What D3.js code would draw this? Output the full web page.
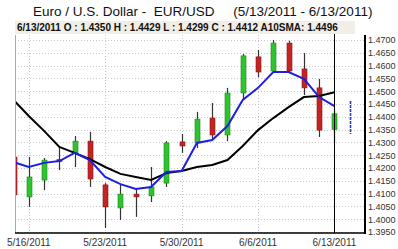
<!DOCTYPE html>
<html>
<head>
<meta charset="utf-8">
<script src="https://cdn.jsdelivr.net/npm/d3@7"></script>
<style>
body { margin: 0; background: #fff; }
svg { display: block; font-family: "Liberation Sans", Arial, sans-serif; }
</style>
</head>
<body>
<script>
(function() {
var w = 398;
var h = 249;

// trading days (a projected range for the next day follows the last one)
var dates = ["5/13/2011", "5/16/2011", "5/17/2011", "5/18/2011", "5/19/2011", "5/20/2011",
             "5/23/2011", "5/24/2011", "5/25/2011", "5/26/2011", "5/27/2011",
             "5/30/2011", "5/31/2011", "6/1/2011", "6/2/2011", "6/3/2011",
             "6/6/2011", "6/7/2011", "6/8/2011", "6/9/2011", "6/10/2011", "6/13/2011"];
var openP  = [1.4243, 1.4087, 1.4153, 1.4233, 1.4259, 1.4305, 1.4134, 1.4044, 1.4098, 1.4091, 1.4141,
              1.4302, 1.4298, 1.4395, 1.4329, 1.4493, 1.4634, 1.4579, 1.4688, 1.4587, 1.4513, 1.4350];
var highP  = [1.4337, 1.4243, 1.4239, 1.4282, 1.4325, 1.4341, 1.4141, 1.4134, 1.4122, 1.4204, 1.4305,
              1.4333, 1.4419, 1.4454, 1.4513, 1.4645, 1.4661, 1.4700, 1.4697, 1.4649, 1.4548, 1.4429];
var lowP   = [1.4075, 1.4048, 1.4114, 1.4192, 1.4204, 1.4126, 1.3966, 1.3997, 1.4009, 1.4067, 1.4126,
              1.4259, 1.4278, 1.4313, 1.4305, 1.4466, 1.4555, 1.4575, 1.4575, 1.4485, 1.4321, 1.4299];
var closeP = [1.4095, 1.4165, 1.4231, 1.4230, 1.4305, 1.4157, 1.4048, 1.4098, 1.4087, 1.4126, 1.4298,
              1.4286, 1.4391, 1.4329, 1.4493, 1.4638, 1.4575, 1.4688, 1.4579, 1.4513, 1.4348, 1.4412];
var sma5  = [1.4223, 1.4204, 1.4220, 1.4227, 1.4259, 1.4231, 1.4165, 1.4137, 1.4118, 1.4126, 1.4184,
             1.4188, 1.4298, 1.4309, 1.4364, 1.4466, 1.4513, 1.4575, 1.4575, 1.4548, 1.4477, 1.4442];
var sma10 = [1.4466, 1.4403, 1.4345, 1.4282, 1.4259, 1.4235, 1.4204, 1.4177, 1.4165, 1.4153, 1.4180,
             1.4188, 1.4204, 1.4212, 1.4231, 1.4286, 1.4348, 1.4395, 1.4438, 1.4477, 1.4481, 1.4496];
var forecast = [1.4333, 1.4462];
var xLabels = ["5/16/2011", "5/23/2011", "5/30/2011", "6/6/2011", "6/13/2011"];
var yLabels = ["1.3950", "1.4000", "1.4050", "1.4100", "1.4150", "1.4200", "1.4250", "1.4300",
               "1.4350", "1.4400", "1.4450", "1.4500", "1.4550", "1.4600", "1.4650", "1.4700"];

var pLeft = 15, pRight = 365, pTop = 35, pBottom = 233;

var x = d3.scaleLinear().domain([0, 23]).range([13.5, pRight]);
var y = d3.scaleLinear().domain([1.395, 1.47]).range([232, 40]);

var svg = d3.select("body").append("svg")
    .attr("width", w)
    .attr("height", h);

// title
svg.append("text")
    .attr("x", 33).attr("y", 16)
    .attr("font-size", 13.5)
    .attr("fill", "#111")
    .attr("xml:space", "preserve")
    .text("Euro / U.S. Dollar -  EUR/USD     (5/13/2011 - 6/13/2011)");

svg.append("defs").append("clipPath").attr("id", "clip")
    .append("rect")
    .attr("x", pLeft).attr("y", pTop)
    .attr("width", pRight - pLeft).attr("height", pBottom - pTop);

// grid
var yVals = yLabels.map(function(d) { return +d; });
svg.append("g").selectAll("line")
    .data(yVals)
    .enter().append("line")
    .attr("x1", pLeft).attr("x2", pRight)
    .attr("y1", function(d) { return Math.round(y(d)) + 0.5; })
    .attr("y2", function(d) { return Math.round(y(d)) + 0.5; })
    .attr("stroke", "#c8c8c8")
    .attr("stroke-dasharray", "1,2");

svg.append("g").selectAll("line")
    .data(xLabels)
    .enter().append("line")
    .attr("x1", function(d) { return Math.round(x(dates.indexOf(d))) + 0.5; })
    .attr("x2", function(d) { return Math.round(x(dates.indexOf(d))) + 0.5; })
    .attr("y1", pTop).attr("y2", pBottom)
    .attr("stroke", "#c8c8c8")
    .attr("stroke-dasharray", "1,2");

var plot = svg.append("g").attr("clip-path", "url(#clip)");

// candles
var idx = d3.range(dates.length);
plot.selectAll(".wick")
    .data(idx)
    .enter().append("line")
    .attr("class", "wick")
    .attr("x1", function(i) { return Math.round(x(i)) + 0.5; })
    .attr("x2", function(i) { return Math.round(x(i)) + 0.5; })
    .attr("y1", function(i) { return y(highP[i]); })
    .attr("y2", function(i) { return y(lowP[i]); })
    .attr("stroke", "#333")
    .attr("stroke-width", 1.2);

plot.selectAll(".body")
    .data(idx)
    .enter().append("rect")
    .attr("class", "body")
    .attr("x", function(i) { return Math.round(x(i)) - 2; })
    .attr("width", 5)
    .attr("y", function(i) { return y(Math.max(openP[i], closeP[i])); })
    .attr("height", function(i) { return Math.max(2, Math.abs(y(openP[i]) - y(closeP[i]))); })
    .attr("fill", function(i) { return closeP[i] >= openP[i] ? "#2fc42f" : "#c42424"; })
    .attr("stroke", function(i) { return closeP[i] >= openP[i] ? "#1a8a1a" : "#8a1616"; })
    .attr("stroke-width", 0.6);

// moving averages
function line(vals) {
    return d3.line()
        .x(function(d, i) { return x(i); })
        .y(function(d) { return y(d); })(vals);
}
plot.append("path")
    .attr("d", line(sma10))
    .attr("fill", "none")
    .attr("stroke", "#000")
    .attr("stroke-width", 2);
plot.append("path")
    .attr("d", line(sma5))
    .attr("fill", "none")
    .attr("stroke", "#1f1fe0")
    .attr("stroke-width", 2);

// projected next day
plot.append("line")
    .attr("x1", Math.round(x(dates.length)) + 0.5)
    .attr("x2", Math.round(x(dates.length)) + 0.5)
    .attr("y1", y(forecast[1]))
    .attr("y2", y(forecast[0]))
    .attr("stroke", "#2a3fb8")
    .attr("stroke-width", 1.6)
    .attr("stroke-dasharray", "3,1");

// cursor line on last day
svg.append("line")
    .attr("x1", Math.round(x(dates.length - 1)) + 0.5)
    .attr("x2", Math.round(x(dates.length - 1)) + 0.5)
    .attr("y1", 21).attr("y2", pBottom)
    .attr("stroke", "#000")
    .attr("stroke-width", 1);

// info box
svg.append("rect")
    .attr("x", pLeft).attr("y", 21)
    .attr("width", 340).attr("height", 13)
    .attr("fill", "#f0eee6");
var last = dates.length - 1;
svg.append("text")
    .attr("x", 17).attr("y", 31)
    .attr("font-size", 10)
    .attr("font-weight", "bold")
    .attr("fill", "#111")
    .text(dates[last] + " O : " + openP[last].toFixed(4) + " H : " + highP[last].toFixed(4) +
          " L : " + lowP[last].toFixed(4) + " C : " + closeP[last].toFixed(4) +
          " A10SMA: " + sma10[last].toFixed(4));

// axes
svg.append("line")
    .attr("x1", pLeft + 0.5).attr("x2", pLeft + 0.5)
    .attr("y1", pTop).attr("y2", pBottom)
    .attr("stroke", "#aaa");
svg.append("line")
    .attr("x1", pRight).attr("x2", pRight)
    .attr("y1", pTop).attr("y2", pBottom + 1)
    .attr("stroke", "#000").attr("stroke-width", 2);
svg.append("line")
    .attr("x1", pLeft).attr("x2", pRight)
    .attr("y1", pBottom).attr("y2", pBottom)
    .attr("stroke", "#000").attr("stroke-width", 1.6);

var yAxis = d3.axisRight(y)
    .tickValues(yVals)
    .tickFormat(function(d, i) { return yLabels[i]; })
    .tickSize(0)
    .tickPadding(3);
var ga = svg.append("g")
    .attr("transform", "translate(" + pRight + ",0)")
    .call(yAxis);
ga.select(".domain").remove();
ga.selectAll("text")
    .attr("font-family", "'Liberation Sans', Arial, sans-serif")
    .attr("font-size", 9)
    .attr("fill", "#333");

svg.append("g").selectAll("text")
    .data(xLabels)
    .enter().append("text")
    .attr("x", function(d) { return x(dates.indexOf(d)); })
    .attr("y", 246)
    .attr("text-anchor", "middle")
    .attr("font-size", 10)
    .attr("fill", "#333")
    .text(function(d) { return d; });
})();
</script>
</body>
</html>
